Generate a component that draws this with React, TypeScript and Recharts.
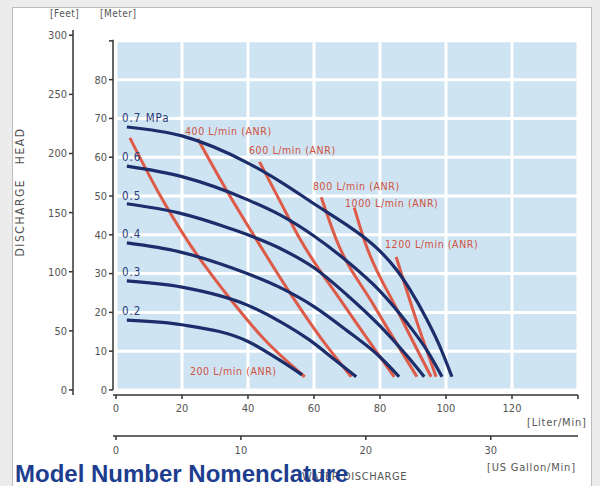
import React from 'react'
import { LineChart, Line, XAxis, YAxis, ReferenceArea, ReferenceLine, ReferenceDot } from 'recharts'

// axis ticks
const flowTicks = [0, 20, 40, 60, 80, 100, 120, 140]
const gallonTicks = [0, 10, 20, 30]
const meterTicks = [0, 10, 20, 30, 40, 50, 60, 70, 80, 90]
const feetTicks = [0, 50, 100, 150, 200, 250, 300]
const gridX = [0, 20, 40, 60, 80, 100, 120, 140]
const gridY = [0, 10, 20, 30, 40, 50, 60, 70, 80, 90]

// pressure curves: [L/min, head m]
const p07 = [[3.3, 67.8], [20, 65.5], [40, 58.5], [50, 53.6], [60, 48], [70, 42.5], [76, 38.8], [80, 35.8], [85, 31], [89, 26], [94, 18.5], [98, 11.5], [101.8, 3.4]]
const p06 = [[3.3, 57.7], [20, 55], [40, 49], [50, 45], [60, 39.7], [70, 33.2], [80, 25.5], [88, 17.5], [94, 10.5], [98.8, 3.4]]
const p05 = [[3.3, 48], [19.3, 45.6], [35, 41.5], [49.5, 36.6], [60, 31.5], [70, 24.5], [80, 16.5], [88, 9], [93.4, 3.4]]
const p04 = [[3.3, 37.9], [19.3, 35.6], [35, 31.5], [49.5, 26.5], [60, 21.5], [70, 15.3], [80, 8.5], [85.8, 3.4]]
const p03 = [[3.3, 28.1], [20, 26.5], [40, 21.8], [50, 17.5], [58.6, 12.9], [66, 8], [72.8, 3.4]]
const p02 = [[3.3, 18], [20, 16.8], [40, 12.5], [50, 7.5], [56.4, 3.9]]
const pressureNames = ['0.7 MPa', '0.6', '0.5', '0.4', '0.3', '0.2']
const pressureLabelAt = [[1.8, 70.1], [1.8, 60], [1.8, 50], [1.8, 40.3], [1.8, 30.4], [1.8, 20.4]]

// air consumption lines
const a200 = [[4.2, 65], [12.5, 51.5], [21.5, 38.7], [34.4, 23.7], [45, 13], [57.2, 3.4]]
const a400 = [[24.8, 64.7], [33.5, 51.5], [42.6, 38.7], [53.5, 24], [62, 13.5], [71.3, 3.4]]
const a600 = [[43.5, 58.8], [49.5, 49], [55.9, 38.7], [69, 22], [84.3, 3.4]]
const a800 = [[62.2, 49.7], [66.8, 38.7], [78, 22], [91.2, 3.4]]
const a1000 = [[72.2, 47], [75.2, 38.7], [85, 21], [95.5, 3.4]]
const a1200 = [[84.9, 34.3], [91, 18], [97, 3.4]]
const airNames = ['200 L/min (ANR)', '400 L/min (ANR)', '600 L/min (ANR)', '800 L/min (ANR)', '1000 L/min (ANR)', '1200 L/min (ANR)']
const airLabelAt = [[22.4, 4.9], [20.9, 66.8], [40.3, 61.9], [59.7, 52.6], [69.4, 48.2], [81.5, 37.6]]

const toPts = (a: number[][]) => a.map(([x, y]) => ({ x, y }))
const pressure = [p07, p06, p05, p04, p03, p02].map(toPts)
const air = [a200, a400, a600, a800, a1000, a1200].map(toPts)

const NAVY = '#1b2d6b'
const RED = '#dd5b48'
const FONT = '"DejaVu Sans Condensed", "Liberation Sans Narrow", sans-serif'
const tickStyle = { fill: '#555', fontSize: 11, fontFamily: FONT }
const axisStroke = { stroke: '#333', strokeWidth: 1.5 }

const M_TO_FT = 3.28084
const L_TO_GAL = 3.78541
const xDom: [number, number] = [-0.9, 140]
const yDom: [number, number] = [-1.3, 92.8]
// invisible anchor so the gallon axis gets a scale
const gallonAnchor = gallonTicks.map((g) => ({ x: g, y: 0 }))

// axis ids sort alphabetically: the first one sits next to the plot
const XL = 'a_liter'
const XG = 'b_gallon'
const YM = 'a_meter'
const YF = 'b_feet'

const txt = (extra: React.CSSProperties): React.CSSProperties => ({
  position: 'absolute', fontFamily: FONT, color: '#555', fontSize: 11, whiteSpace: 'nowrap', ...extra,
})

export default function App() {
  return (
    <div style={{ position: 'absolute', left: 0, top: 0, width: 600, height: 486, overflow: 'hidden', background: '#ececec' }}>
      <div style={{ position: 'absolute', left: 12, top: 7, width: 578, height: 500, background: '#fff', border: '1px solid #bdbdbd' }} />
      <div style={{ position: 'absolute', left: 0, top: 0 }}>
        <LineChart width={600} height={486} margin={{ top: 30, right: 22, left: 20, bottom: 20 }}>
          <XAxis xAxisId={XL} dataKey="x" type="number" domain={xDom} ticks={flowTicks} allowDataOverflow
            tickFormatter={(v: number) => (v === 140 ? '' : String(v))}
            height={41} tick={tickStyle} axisLine={axisStroke} tickLine={axisStroke} tickSize={4} tickMargin={5} />
          <XAxis xAxisId={XG} dataKey="x" type="number" domain={[xDom[0] / L_TO_GAL, xDom[1] / L_TO_GAL]} ticks={gallonTicks} allowDataOverflow
            height={30} tick={tickStyle} axisLine={axisStroke} tickLine={axisStroke} tickSize={4} tickMargin={6} />
          <YAxis yAxisId={YM} type="number" domain={yDom} ticks={meterTicks} allowDataOverflow
            tickFormatter={(v: number) => (v === 90 ? '' : String(v))}
            width={40} tick={tickStyle} axisLine={false} tickLine={axisStroke} tickSize={4} tickMargin={2} />
          <YAxis yAxisId={YF} type="number" domain={[yDom[0] * M_TO_FT, yDom[1] * M_TO_FT]} ticks={feetTicks} allowDataOverflow
            width={53} tick={tickStyle} axisLine={axisStroke} tickLine={axisStroke} tickSize={4} tickMargin={2} />

          <ReferenceArea xAxisId={XL} yAxisId={YM} x1={0} x2={140} y1={0} y2={90} fill="#cfe4f2" fillOpacity={1} stroke="none" />
          {gridX.map((v) => (
            <ReferenceLine key={'gx' + v} xAxisId={XL} yAxisId={YM} segment={[{ x: v, y: 0 }, { x: v, y: 90 }]} stroke="#fff" strokeWidth={3} />
          ))}
          {gridY.map((v) => (
            <ReferenceLine key={'gy' + v} xAxisId={XL} yAxisId={YM} segment={[{ x: 0, y: v }, { x: 140, y: v }]} stroke="#fff" strokeWidth={3} />
          ))}
          <ReferenceLine xAxisId={XL} yAxisId={YM} segment={[{ x: xDom[0], y: 0 }, { x: xDom[0], y: 90.3 }]} stroke="#333" strokeWidth={1.5} />

          <Line xAxisId={XG} yAxisId={YM} data={gallonAnchor} dataKey="y" stroke="none" strokeWidth={0} dot={false} activeDot={false} isAnimationActive={false} />
          {air.map((d, i) => (
            <Line key={'a' + i} xAxisId={XL} yAxisId={YM} data={d} dataKey="y" type="monotone" stroke={RED}
              strokeWidth={3} dot={false} isAnimationActive={false} />
          ))}
          {pressure.map((d, i) => (
            <Line key={'p' + i} xAxisId={XL} yAxisId={YM} data={d} dataKey="y" type="monotone" stroke={NAVY}
              strokeWidth={3.2} dot={false} isAnimationActive={false} />
          ))}

          {pressureNames.map((n, i) => (
            <ReferenceDot key={'pl' + i} xAxisId={XL} yAxisId={YM} x={pressureLabelAt[i][0]} y={pressureLabelAt[i][1]} r={0}
              stroke="none" fill="none"
              label={{ value: n, position: 'right', offset: 0, fill: '#2b3b78', fontSize: 11.5, fontFamily: FONT, letterSpacing: 1 }} />
          ))}
          {airNames.map((n, i) => (
            <ReferenceDot key={'al' + i} xAxisId={XL} yAxisId={YM} x={airLabelAt[i][0]} y={airLabelAt[i][1]} r={0}
              stroke="none" fill="none"
              label={{ value: n, position: 'right', offset: 0, fill: '#d0513f', fontSize: 10.5, fontFamily: FONT, letterSpacing: 0.6 }} />
          ))}
        </LineChart>
      </div>

      <div style={txt({ left: 50, top: 8, fontSize: 10, letterSpacing: 0.5 })}>[Feet]</div>
      <div style={txt({ left: 100, top: 8, fontSize: 10, letterSpacing: 0.5 })}>[Meter]</div>
      <div style={txt({ left: 20, top: 192, fontSize: 12, letterSpacing: 1.5, transform: 'translate(-50%, -50%) rotate(-90deg)' })}>
        DISCHARGE&nbsp;&nbsp;&nbsp;HEAD
      </div>
      <div style={txt({ left: 527, top: 416, letterSpacing: 0.8 })}>[Liter/Min]</div>
      <div style={txt({ left: 487, top: 461, letterSpacing: 0.8 })}>[US Gallon/Min]</div>
      <div style={txt({ left: 302, top: 470, letterSpacing: 0.6 })}>WATER DISCHARGE</div>
      <div style={{ position: 'absolute', left: 15, top: 460, fontFamily: 'Arial, "Liberation Sans", sans-serif', fontWeight: 'bold', fontSize: 24, color: '#1d3d8f', whiteSpace: 'nowrap', lineHeight: '28px' }}>
        Model Number Nomenclature
      </div>
    </div>
  )
}
